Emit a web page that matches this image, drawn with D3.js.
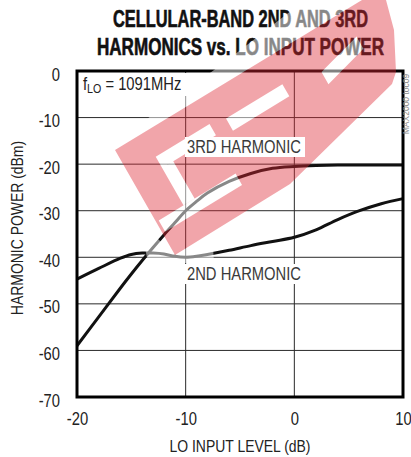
<!DOCTYPE html>
<html>
<head>
<meta charset="utf-8">
<script src="https://cdn.jsdelivr.net/npm/d3@7"></script>
<style>
  html, body { margin: 0; padding: 0; background: #fff; }
  svg { display: block; }
</style>
</head>
<body>
<script>
// LO input level (dB) at which the harmonic levels are read
const loLevel = [-20, -18, -16, -15, -14, -13, -12, -11, -10, -9, -8, -6, -4, -2, 0, 2, 4, 6, 8, 10];
// 2nd harmonic power (dBm)
const harm2 = [-44.7, -42.4, -40.2, -39.4, -39.1, -39.1, -39.3, -39.8, -40.0, -39.8, -39.4, -38.5, -37.5, -36.6, -35.7, -34.1, -31.9, -30.0, -28.5, -27.4];
// 3rd harmonic power (dBm)
const harm3 = [-59.0, -52.8, -46.6, -43.6, -40.7, -37.9, -35.2, -32.6, -30.0, -28.0, -26.2, -23.7, -22.0, -20.9, -20.5, -20.3, -20.2, -20.2, -20.2, -20.2];

const xTicks = [-20, -10, 0, 10];
const yTicks = [0, -10, -20, -30, -40, -50, -60, -70];
const titleLines = ["CELLULAR-BAND 2ND AND 3RD", "HARMONICS vs. LO INPUT POWER"];
const xTitle = "LO INPUT LEVEL (dB)";
const yTitle = "HARMONIC POWER (dBm)";
const seriesLabels = ["3RD HARMONIC", "2ND HARMONIC"];

const W = 411, H = 457;
const plot = { left: 77, right: 403, top: 71, bottom: 397 };
const FONT = "'Liberation Sans', Arial, sans-serif";
const NARROW = 0.82;   // horizontal squeeze giving a narrow face

const x = d3.scaleLinear().domain([-20, 10]).range([plot.left, plot.right]);
const y = d3.scaleLinear().domain([-70, 0]).range([plot.bottom, plot.top]);

const svg = d3.select("body").append("svg")
  .attr("width", W).attr("height", H)
  .attr("font-family", FONT);

// squeeze text horizontally to its narrow width
function condense(sel, k) {
  sel.each(function () {
    const w = this.getComputedTextLength();
    d3.select(this).attr("textLength", w * k).attr("lengthAdjust", "spacingAndGlyphs");
  });
}

// Title
const titleWidths = [255, 287];
svg.append("g").selectAll("text").data(titleLines).join("text")
  .attr("x", 240.5)
  .attr("y", (d, i) => 27 + i * 28)
  .attr("text-anchor", "middle")
  .attr("font-size", 23)
  .attr("font-weight", "bold")
  .attr("fill", "#111")
  .attr("stroke", "#111").attr("stroke-width", 0.6)
  .attr("textLength", (d, i) => titleWidths[i])
  .attr("lengthAdjust", "spacingAndGlyphs")
  .text(d => d);

// Grid
const grid = svg.append("g").attr("stroke", "#2a2a2a").attr("stroke-width", 1);
grid.selectAll("line.h").data(yTicks.filter(v => v > -70 && v < 0)).join("line")
  .attr("class", "h")
  .attr("x1", plot.left).attr("x2", plot.right)
  .attr("y1", d => y(d)).attr("y2", d => y(d));
grid.selectAll("line.v").data(xTicks.filter(v => v > -20 && v < 10)).join("line")
  .attr("class", "v")
  .attr("x1", d => x(d)).attr("x2", d => x(d))
  .attr("y1", plot.top).attr("y2", plot.bottom);

// Axes (labels only)
const yAxis = svg.append("g")
  .attr("transform", `translate(${plot.left},0)`)
  .call(d3.axisLeft(y).tickValues(yTicks).tickSize(0).tickPadding(17).tickFormat(d => String(d)));
yAxis.select(".domain").remove();
yAxis.attr("font-family", FONT).attr("font-size", 18).attr("color", "#222");
yAxis.selectAll("text").attr("dy", "0.5em").call(condense, NARROW);

const xAxis = svg.append("g")
  .attr("transform", `translate(0,${plot.bottom})`)
  .call(d3.axisBottom(x).tickValues(xTicks).tickSize(0).tickPadding(15).tickFormat(d => String(d)));
xAxis.select(".domain").remove();
xAxis.attr("font-family", FONT).attr("font-size", 18).attr("color", "#222");
xAxis.selectAll("text").call(condense, NARROW);

// Axis titles
svg.append("text")
  .attr("x", (plot.left + plot.right) / 2).attr("y", 452)
  .attr("text-anchor", "middle").attr("font-size", 17).attr("fill", "#222")
  .text(xTitle).call(condense, NARROW);
svg.append("text")
  .attr("transform", "translate(23,228) rotate(-90)")
  .attr("text-anchor", "middle").attr("font-size", 17).attr("fill", "#222")
  .text(yTitle).call(condense, NARROW);

// Curves
const line = d3.line()
  .x((d, i) => x(loLevel[i]))
  .y(d => y(d))
  .curve(d3.curveCatmullRom.alpha(0.5));
svg.append("g").attr("fill", "none").attr("stroke", "#111").attr("stroke-width", 3)
  .attr("stroke-linejoin", "round")
  .selectAll("path").data([harm3, harm2]).join("path")
  .attr("d", d => line(d));

// Frame
svg.append("rect")
  .attr("x", plot.left).attr("y", plot.top)
  .attr("width", plot.right - plot.left).attr("height", plot.bottom - plot.top)
  .attr("fill", "none").attr("stroke", "#000").attr("stroke-width", 3);

// Label with white backing box
function boxedLabel(parent, lx, ly, txt, w) {
  const g = parent.append("g");
  g.append("rect").attr("x", lx - 2).attr("y", ly - 16).attr("width", w).attr("height", 20).attr("fill", "#fff");
  g.append("text").attr("x", lx).attr("y", ly).attr("font-size", 18).attr("fill", "#3a3a3a")
    .text(txt).call(condense, NARROW);
  return g;
}
boxedLabel(svg, 187, 280, seriesLabels[1], 120);

// LO frequency note
const fNote = svg.append("g");
fNote.append("rect").attr("x", 80).attr("y", 73).attr("width", 113).attr("height", 23).attr("fill", "#fff");
const ft = fNote.append("text").attr("x", 83).attr("y", 90).attr("font-size", 18).attr("fill", "#222");
ft.append("tspan").text("f");
ft.append("tspan").attr("font-size", 13).attr("dy", 2.5).text("LO");
ft.append("tspan").attr("dy", -2.5).text(" = 1091MHz");
ft.call(condense, NARROW);

// Figure code, vertical on the right edge
svg.append("text")
  .attr("transform", "translate(409,104) rotate(-90)")
  .attr("text-anchor", "middle").attr("font-size", 8.5).attr("fill", "#8a8a8a")
  .text("MAX2000 toc09");

// Logo overlay
const P = (s, t) => [115 + 0.854 * s + 0.496 * t, 150 - 0.521 * s + 0.868 * t];
const rectST = (s0, s1, t0, t1) => [P(s0, t0), P(s1, t0), P(s1, t1), P(s0, t1)];
const outline = [[115, 150], [362, 0], [386, 0], [394, 30], [396, 72], [392, 84], [290, 184], [175, 255]];
const cutouts = [
  rectST(32, 95, 27, 40),
  rectST(32, 45, 40, 83),
  rectST(3, 93, 83, 96),
  rectST(112, 178, 31, 45),
  [P(218, 41), P(266, 29), P(266, 43), P(218, 55)]
];
const halos = [
  [[115, 150], [362, 0], [305, 0], [225, 62], [110, 146]],
  [[140, 222], [175, 255], [212, 232], [214, 263], [148, 263]]
];
const poly = pts => "M" + pts.map(p => p.join(",")).join("L") + "Z";
const logo = svg.append("g");
logo.selectAll("path.haze").data(halos.concat(cutouts)).join("path")
  .attr("class", "haze")
  .attr("d", poly)
  .attr("fill", "#fff").attr("fill-opacity", 0.5);
logo.append("path")
  .attr("d", poly(outline) + cutouts.map(poly).join(""))
  .attr("fill-rule", "evenodd")
  .attr("fill", "rgb(222,40,52)").attr("fill-opacity", 0.42);

boxedLabel(svg, 187, 153, seriesLabels[0], 120);
</script>
</body>
</html>
